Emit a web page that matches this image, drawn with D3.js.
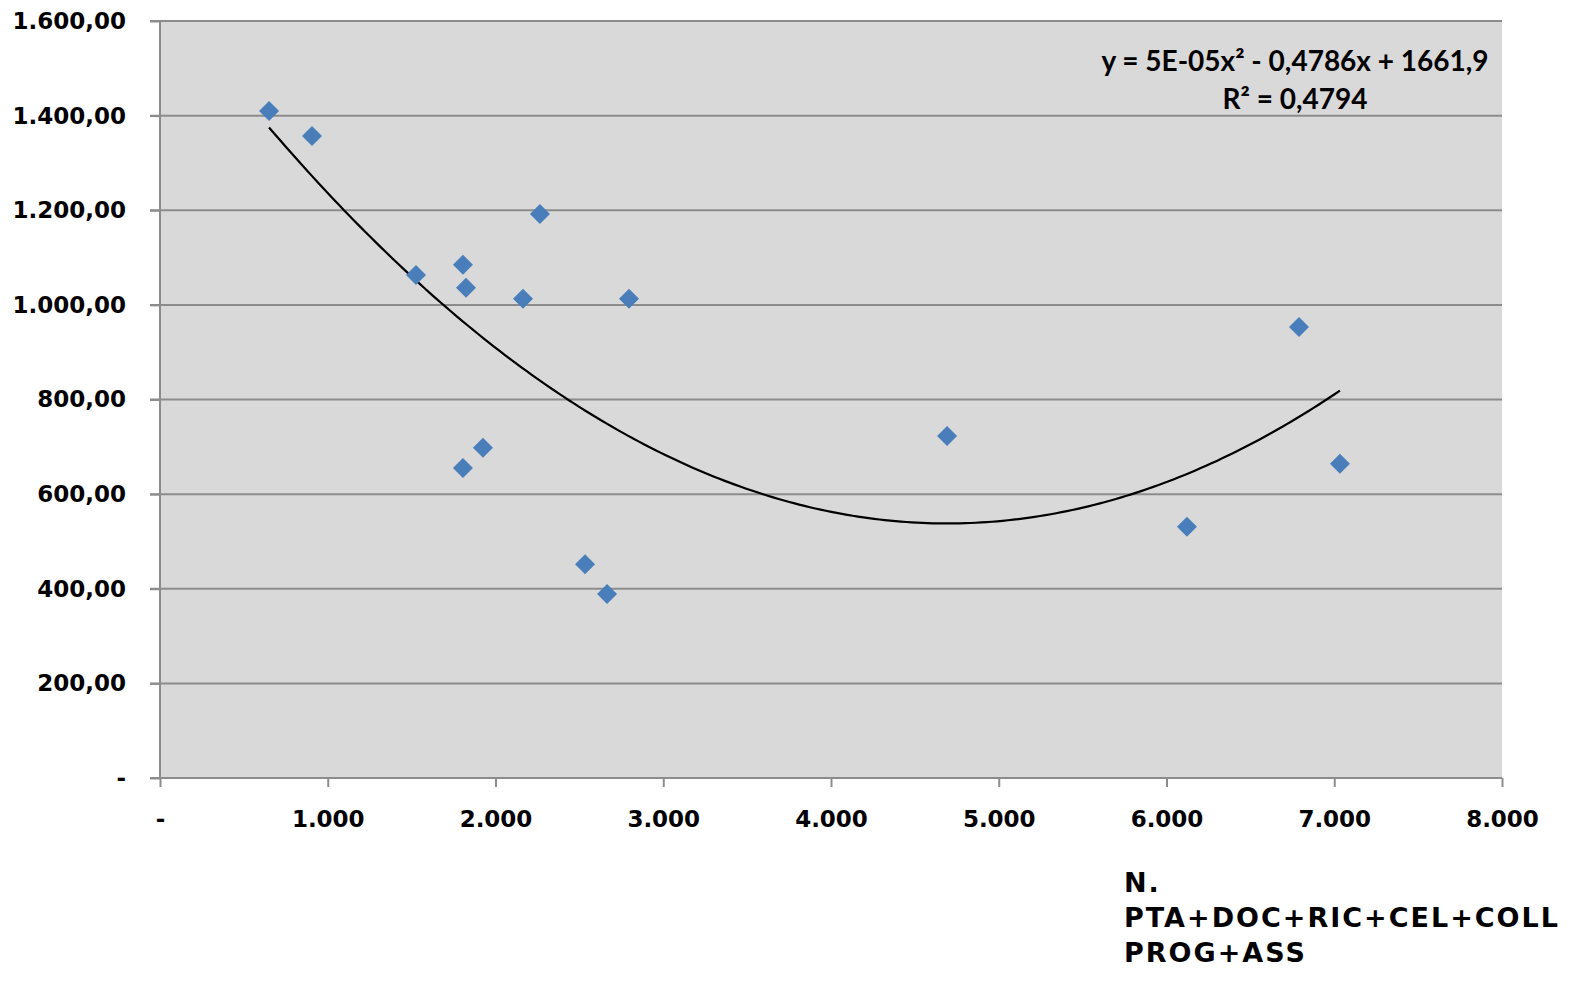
<!DOCTYPE html>
<html><head><meta charset="utf-8">
<script src="https://cdn.jsdelivr.net/npm/d3@7"></script>
<style>body{margin:0;background:#fff}svg{display:block}</style>
</head><body>
<svg id="chart" width="1591" height="981"></svg>
<script>
const xValues = [650, 906, 1526, 1806, 1824, 2164, 2265, 2796, 1806, 1925, 2534, 2665, 4692, 6122, 6790, 7034];
const yValues = [1410, 1357, 1063, 1085, 1036, 1013, 1192, 1013, 655, 698, 452, 389, 723, 531, 953, 664];
const xTicks = [0, 1000, 2000, 3000, 4000, 5000, 6000, 7000, 8000];
const yTicks = [0, 200, 400, 600, 800, 1000, 1200, 1400, 1600];
const equationLines = ["y = 5E-05x\u00B2 - 0,4786x + 1661,9", "R\u00B2 = 0,4794"];
const axisTitleLines = ["N.", "PTA+DOC+RIC+CEL+COLL", "PROG+ASS"];

const svg = d3.select("#chart");
const L = 160, R = 1502, T = 21, B = 778;
const x = d3.scaleLinear().domain([0, 8000]).range([L, R]);
const y = d3.scaleLinear().domain([0, 1600]).range([B, T]);

const loc = d3.formatLocale({decimal:",", thousands:".", grouping:[3]});
const fmtX = d => d === 0 ? "-" : loc.format(",.0f")(d);
const fmtY = d => d === 0 ? "-" : loc.format(",.2f")(d);

svg.append("rect").attr("x", L).attr("y", T).attr("width", R - L).attr("height", B - T).attr("fill", "#d9d9d9");

// gridlines
svg.append("g").selectAll("line").data(yTicks.filter(d => d > 0)).join("line")
  .attr("x1", L - 10).attr("x2", R).attr("y1", d => y(d)).attr("y2", d => y(d))
  .attr("stroke", "#8c8c8c").attr("stroke-width", 2);

// y axis
const yAxis = svg.append("g").attr("transform", `translate(${L},0)`)
  .call(d3.axisLeft(y).tickValues(yTicks).tickFormat(fmtY).tickSize(10).tickPadding(24));
yAxis.select(".domain").attr("stroke", "#8c8c8c").attr("stroke-width", 2).attr("d", `M0,${T}V${B}`);
yAxis.selectAll(".tick line").attr("stroke", "#8c8c8c").attr("stroke-width", 2);
yAxis.selectAll("text").attr("font-family", "DejaVu Sans").attr("font-weight", "bold").attr("font-size", 23).attr("fill", "#000");

// x axis
const xAxis = svg.append("g").attr("transform", `translate(0,${B})`)
  .call(d3.axisBottom(x).tickValues(xTicks).tickFormat(fmtX).tickSize(9).tickPadding(24));
xAxis.select(".domain").attr("stroke", "#8c8c8c").attr("stroke-width", 2).attr("d", `M${L - 10},0H${R}`);
xAxis.selectAll(".tick line").attr("stroke", "#8c8c8c").attr("stroke-width", 2);
xAxis.selectAll("text").attr("font-family", "DejaVu Sans").attr("font-weight", "bold").attr("font-size", 23).attr("fill", "#000");

// quadratic least squares fit
const pts = xValues.map((v, i) => [v, yValues[i]]);
function polyfit2(p) {
  const S = k => d3.sum(p, d => Math.pow(d[0], k));
  const Sy = k => d3.sum(p, d => Math.pow(d[0], k) * d[1]);
  const M = [[S(4), S(3), S(2), Sy(2)], [S(3), S(2), S(1), Sy(1)], [S(2), S(1), S(0), Sy(0)]];
  for (let i = 0; i < 3; i++) {
    for (let j = i + 1; j < 3; j++) {
      const f = M[j][i] / M[i][i];
      for (let k = i; k < 4; k++) M[j][k] -= f * M[i][k];
    }
  }
  const c = [0, 0, 0];
  for (let i = 2; i >= 0; i--) {
    let s = M[i][3];
    for (let k = i + 1; k < 3; k++) s -= M[i][k] * c[k];
    c[i] = s / M[i][i];
  }
  return c;
}
const [a, b, c0] = polyfit2(pts);
const xmin = d3.min(xValues), xmax = d3.max(xValues);
const curve = d3.range(0, 201).map(i => {
  const xv = xmin + (xmax - xmin) * i / 200;
  return [xv, a * xv * xv + b * xv + c0];
});
svg.append("path").datum(curve)
  .attr("d", d3.line().x(d => x(d[0])).y(d => y(d[1])))
  .attr("fill", "none").attr("stroke", "#000").attr("stroke-width", 2.2);

// points
svg.append("g").selectAll("path").data(pts).join("path")
  .attr("transform", d => `translate(${x(d[0])},${y(d[1])})`)
  .attr("d", "M0,-10L10,0L0,10L-10,0Z")
  .attr("fill", "#4a7ebb");

// equation
svg.append("g").selectAll("text").data(equationLines).join("text")
  .attr("x", 1295).attr("y", (d, i) => 71 + i * 38)
  .attr("text-anchor", "middle")
  .attr("font-family", "Lato").attr("font-weight", "bold").attr("font-size", 28).attr("fill", "#000")
  .text(d => d);

// axis title
svg.append("g").selectAll("text").data(axisTitleLines).join("text")
  .attr("x", 1124).attr("y", (d, i) => 892 + i * 35)
  .attr("font-family", "DejaVu Sans").attr("font-weight", "bold").attr("font-size", 27)
  .attr("letter-spacing", 2).attr("fill", "#000")
  .text(d => d);
</script>
</body></html>
